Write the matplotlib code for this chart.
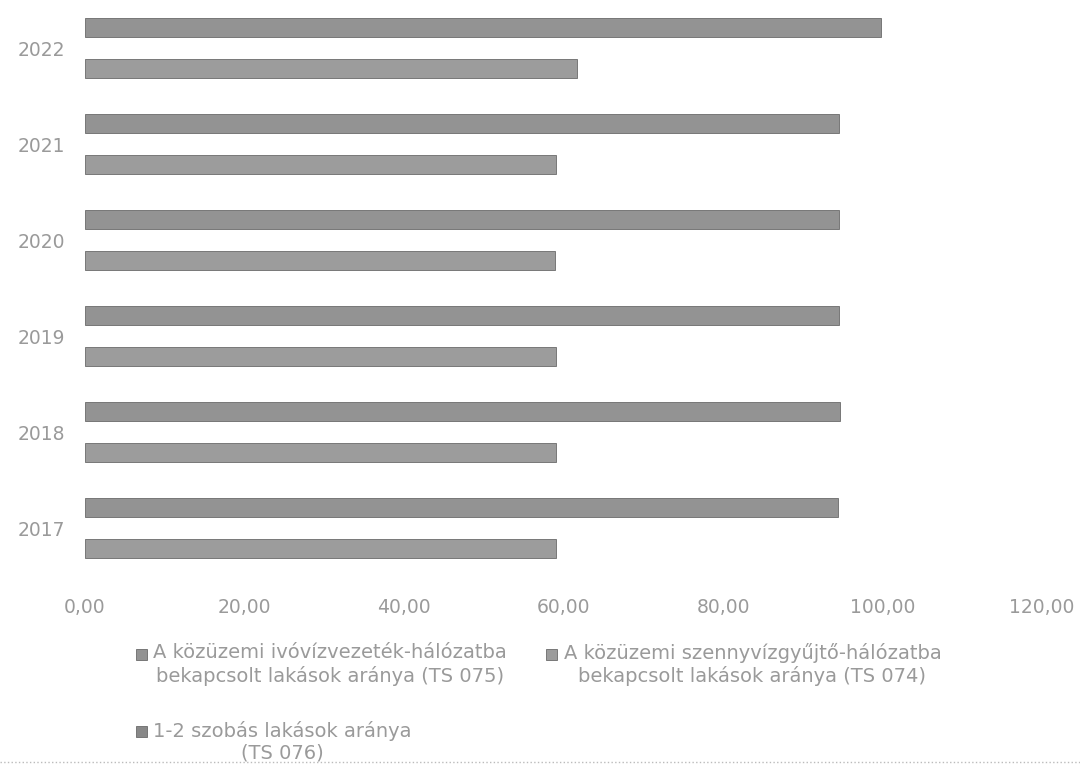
import numpy as np
from matplotlib import pyplot as plt
from matplotlib.lines import Line2D
from matplotlib.patches import Patch, Rectangle
from matplotlib.legend_handler import HandlerPatch

years = ['2017', '2018', '2019', '2020', '2021', '2022']
ivoviz = [94.4, 94.7, 94.6, 94.5, 94.6, 99.8]
szennyviz = [59.0, 59.1, 59.0, 58.9, 59.0, 61.7]
szobas = [np.nan] * 6

lab_ivoviz = 'A közüzemi ivóvízvezeték-hálózatba\nbekapcsolt lakások aránya (TS 075)'
lab_szennyviz = 'A közüzemi szennyvízgyűjtő-hálózatba\nbekapcsolt lakások aránya (TS 074)'
lab_szobas = '1-2 szobás lakások aránya\n(TS 076)'

xticks = [0, 20, 40, 60, 80, 100, 120]
xticklabels = ['0,00', '20,00', '40,00', '60,00', '80,00', '100,00', '120,00']

TXT = '#9a9a9a'
COL_IVO, COL_SZENNY, COL_SZOBA = '#939393', '#9c9c9c', '#888888'
plt.rcParams['font.family'] = ['DejaVu Sans']

fig = plt.figure(figsize=(10.8, 7.66), dpi=100)
ax = fig.add_axes([85 / 1080, 1 - 576 / 766, (1042 - 85) / 1080, 576 / 766])

y = np.arange(len(years))
h = 0.2
ax.barh(y + 0.21, ivoviz, height=h, color=COL_IVO, edgecolor='#6a6a6a', linewidth=0.6)
ax.barh(y - 0.21, szennyviz, height=h, color=COL_SZENNY, edgecolor='#6a6a6a', linewidth=0.6)
ax.barh(y, szobas, height=h, color=COL_SZOBA, edgecolor='#6a6a6a', linewidth=0.6)

ax.set_xlim(0, 120)
ax.set_ylim(-0.5, 5.5)
ax.set_xticks(xticks)
ax.set_xticklabels(xticklabels)
ax.set_yticks(y)
ax.set_yticklabels(years)
ax.tick_params(axis='both', length=0, labelsize=13.5, colors=TXT)
ax.tick_params(axis='y', pad=14)
ax.tick_params(axis='x', pad=16)
for s in ax.spines.values():
    s.set_visible(False)


# legend square sits on the first text line, like in the original
def top_square(legend, orig_handle, xdescent, ydescent, width, height, fontsize):
    return Rectangle((-xdescent, -ydescent + 0.55 * fontsize), width, height)


handles = [Patch(facecolor=COL_IVO, edgecolor='#6a6a6a', linewidth=0.6),
           Patch(facecolor=COL_SZOBA, edgecolor='#6a6a6a', linewidth=0.6),
           Patch(facecolor=COL_SZENNY, edgecolor='#6a6a6a', linewidth=0.6)]
leg = fig.legend(handles, [lab_ivoviz, lab_szobas, lab_szennyviz],
                 ncol=2, loc='upper left', bbox_to_anchor=(134 / 1080, 1 - 641 / 766),
                 frameon=False, fontsize=14, handlelength=0.55, handleheight=0.55,
                 handletextpad=0.35, columnspacing=2.0, labelspacing=1.8,
                 borderpad=0.1, borderaxespad=0,
                 handler_map={Patch: HandlerPatch(patch_func=top_square)})
for t in leg.get_texts():
    t.set_color(TXT)
    t.set_multialignment('center')

fig.add_artist(Line2D([0, 1], [4 / 766, 4 / 766], transform=fig.transFigure,
                      color='#bbbbbb', linestyle=':', linewidth=1))

fig.savefig('out.png', dpi=100)
plt.close()
